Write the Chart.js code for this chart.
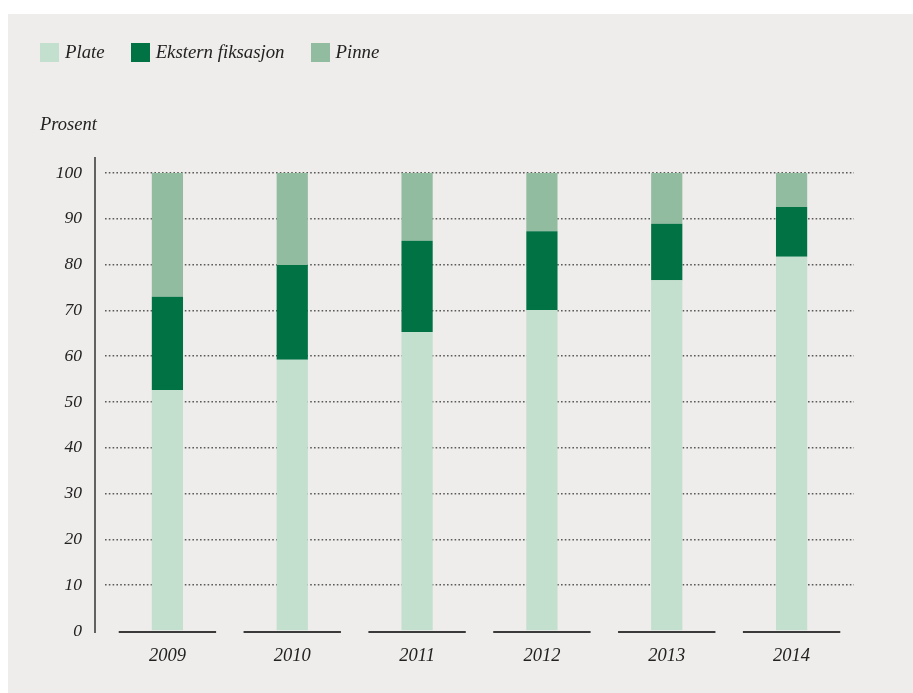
<!DOCTYPE html>
<html>
<head>
<meta charset="utf-8">
<script src="https://cdn.jsdelivr.net/npm/chart.js@4.4.1/dist/chart.umd.min.js"></script>
<style>
  html, body { margin: 0; padding: 0; background: #ffffff; }
  #panel {
    position: absolute; left: 8px; top: 14px; width: 905px; height: 679px;
    background: #eeedeb; overflow: hidden;
  }
  #chartWrap { position: absolute; left: 0; top: 0; width: 905px; height: 679px; }
  .legend {
    position: absolute; left: 32px; top: 27px; display: flex; align-items: center;
    font-family: "Liberation Serif", serif; font-style: italic; font-size: 18.8px; color: #222;
  }
  .legend span.item { display: flex; align-items: center; margin-right: 26px; }
  .legend i { display: inline-block; width: 19px; height: 19px; margin-right: 6px; }
  .ylabel {
    position: absolute; left: 32px; top: 100px;
    font-family: "Liberation Serif", serif; font-style: italic; font-size: 18.5px; color: #222;
  }
</style>
</head>
<body>
<div id="panel">
  <div id="chartWrap"><canvas id="bars"></canvas></div>
  <div class="legend" id="legend"></div>
  <div class="ylabel">Prosent</div>
</div>
<script>
// --- Data ---
const years = ['2009', '2010', '2011', '2012', '2013', '2014'];
const plate = [52.6, 59.2, 65.3, 70.1, 76.6, 81.7];
const ekstern = [20.4, 20.7, 19.9, 17.2, 12.3, 10.9];
const pinne = [27.0, 20.1, 14.8, 12.7, 11.1, 7.4];
const yTicks = [0, 10, 20, 30, 40, 50, 60, 70, 80, 90, 100];

const colors = { plate: '#c3dfcd', ekstern: '#007244', pinne: '#92bca0' };
const textColor = '#222';
const serif = '"Liberation Serif", serif';

// Legend (HTML, left-aligned like the original)
const legendItems = [
    ['Plate', colors.plate],
    ['Ekstern fiksasjon', colors.ekstern],
    ['Pinne', colors.pinne]
];
document.getElementById('legend').innerHTML = legendItems
    .map(([label, c]) => `<span class="item"><i style="background:${c}"></i>${label}</span>`)
    .join('');

// Vertical axis line and the short baseline under each category
const axisDecor = {
    id: 'axisDecor',
    afterDatasetsDraw(chart) {
        const { ctx, chartArea, scales } = chart;
        const x = scales.x;
        const catW = (chartArea.right - chartArea.left) / years.length;
        ctx.save();
        ctx.strokeStyle = '#333';
        ctx.lineWidth = 1.5;
        ctx.beginPath();
        ctx.moveTo(chartArea.left - 10, chartArea.top - 16);
        ctx.lineTo(chartArea.left - 10, chartArea.bottom + 2);
        ctx.stroke();
        ctx.lineWidth = 2;
        ctx.strokeStyle = '#3a3a3a';
        years.forEach((y, i) => {
            const cx = x.getPixelForValue(i);
            ctx.beginPath();
            ctx.moveTo(cx - catW * 0.39, chartArea.bottom + 1);
            ctx.lineTo(cx + catW * 0.39, chartArea.bottom + 1);
            ctx.stroke();
        });
        ctx.restore();
    }
};

const ctx = document.getElementById('bars').getContext('2d');
const chart = new Chart(ctx, {
    type: 'bar',
    data: {
        labels: years,
        datasets: [
            { label: 'Plate', data: plate, backgroundColor: colors.plate },
            { label: 'Ekstern fiksasjon', data: ekstern, backgroundColor: colors.ekstern },
            { label: 'Pinne', data: pinne, backgroundColor: colors.pinne }
        ]
    },
    options: {
        responsive: true,
        maintainAspectRatio: false,
        animation: false,
        datasets: { bar: { categoryPercentage: 1, barPercentage: 0.25, borderWidth: 0 } },
        layout: { padding: { top: 159, right: 59, bottom: 0, left: 0 } },
        plugins: {
            legend: { display: false },
            tooltip: { enabled: false }
        },
        scales: {
            x: {
                stacked: true,
                grid: { display: false, drawTicks: false },
                border: { display: false },
                ticks: {
                    color: textColor,
                    padding: 14,
                    font: { family: serif, style: 'italic', size: 18.5 }
                },
                afterFit(scale) { scale.height = 62; }
            },
            y: {
                stacked: true,
                min: 0,
                max: 100,
                afterBuildTicks(scale) { scale.ticks = yTicks.map(v => ({ value: v })); },
                grid: {
                    drawTicks: false,
                    color: c => (c.tick && c.tick.value === 0) ? 'rgba(0,0,0,0)' : '#5a5a5a',
                    lineWidth: 1.6
                },
                border: { display: false, dash: [1.6, 2.2] },
                ticks: {
                    color: textColor,
                    padding: 23,
                    font: { family: serif, style: 'italic', size: 17.5 }
                },
                afterFit(scale) { scale.width = 97; }
            }
        }
    },
    plugins: [axisDecor]
});
</script>
</body>
</html>
